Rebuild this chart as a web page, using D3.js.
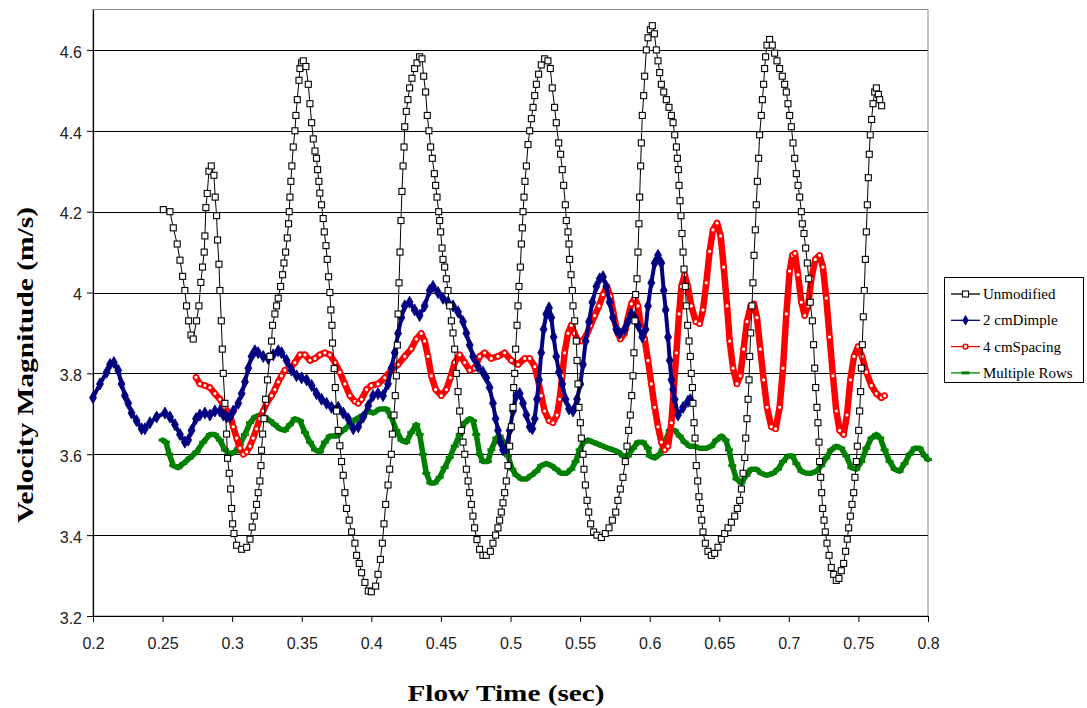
<!DOCTYPE html>
<html><head><meta charset="utf-8">
<script src="https://cdn.jsdelivr.net/npm/d3@7"></script>
<style>body{margin:0;background:#fff}</style>
</head><body>
<svg id="chart" width="1087" height="708"></svg>
<script>
// ---------- DATA ----------
const seriesNames = ["Unmodified", "2 cmDimple", "4 cmSpacing", "Multiple Rows"];

const unmodTime = [0.2505,0.2553,0.2577,0.2605,0.2625,0.2644,0.2660,0.2672,0.2687,0.2704,0.2720,0.2744,0.2761,0.2775,0.2787,0.2799,0.2804,0.2811,0.2821,0.2833,0.2850,0.2869,0.2878,0.2888,0.2895,0.2905,0.2912,0.2922,0.2929,0.2936,0.2948,0.2960,0.2967,0.2979,0.2989,0.2996,0.3003,0.3013,0.3032,0.3068,0.3104,0.3128,0.3144,0.3159,0.3175,0.3187,0.3199,0.3207,0.3211,0.3219,0.3228,0.3240,0.3254,0.3271,0.3283,0.3290,0.3307,0.3319,0.3331,0.3348,0.3362,0.3372,0.3384,0.3396,0.3405,0.3410,0.3415,0.3422,0.3429,0.3439,0.3451,0.3458,0.3468,0.3480,0.3487,0.3499,0.3511,0.3530,0.3547,0.3559,0.3571,0.3583,0.3595,0.3606,0.3614,0.3623,0.3630,0.3642,0.3654,0.3662,0.3674,0.3683,0.3693,0.3702,0.3709,0.3717,0.3721,0.3733,0.3741,0.3750,0.3762,0.3774,0.3786,0.3798,0.3810,0.3822,0.3841,0.3858,0.3882,0.3894,0.3913,0.3930,0.3954,0.3978,
0.4000,0.4031,0.4048,0.4065,0.4079,0.4091,0.4103,0.4120,0.4132,0.4144,0.4151,0.4163,0.4172,0.4180,0.4187,0.4192,0.4199,0.4206,0.4213,0.4220,0.4228,0.4235,0.4240,0.4251,0.4263,0.4275,0.4292,0.4311,0.4328,0.4347,0.4364,0.4376,0.4390,0.4402,0.4414,0.4426,0.4438,0.4453,0.4462,0.4472,0.4484,0.4491,0.4498,0.4508,0.4515,0.4527,0.4539,0.4551,0.4563,0.4575,0.4587,0.4599,0.4611,0.4623,0.4635,0.4647,0.4659,0.4671,0.4683,0.4695,0.4707,0.4719,0.4730,0.4742,0.4759,0.4778,0.4802,0.4826,0.4855,0.4874,0.4893,0.4910,0.4922,0.4934,0.4946,0.4958,0.4970,0.4982,0.4994,0.5006,0.5018,0.5023,0.5030,0.5037,0.5047,0.5054,0.5061,0.5071,0.5078,0.5085,0.5090,0.5097,0.5104,0.5114,0.5126,0.5138,0.5150,0.5162,0.5174,0.5186,0.5202,0.5221,0.5245,0.5269,0.5286,0.5300,0.5317,0.5329,0.5346,0.5360,0.5372,0.5382,0.5394,0.5401,0.5413,0.5420,0.5425,0.5435,0.5444,0.5449,0.5461,0.5473,0.5478,0.5485,0.5492,0.5502,0.5509,0.5521,0.5528,0.5538,0.5550,0.5562,0.5576,0.5597,0.5621,0.5653,0.5681,0.5708,0.5732,0.5756,0.5772,0.5789,0.5808,0.5825,0.5837,0.5849,0.5861,0.5871,0.5880,0.5887,0.5894,0.5899,0.5909,0.5916,0.5923,0.5928,0.5935,0.5940,0.5947,0.5957,
0.5964,0.5976,0.5988,0.6005,0.6019,0.6034,0.6048,0.6060,0.6072,0.6084,0.6101,0.6120,0.6139,0.6156,0.6168,0.6180,0.6192,0.6199,0.6206,0.6211,0.6218,0.6225,0.6232,0.6240,0.6247,0.6256,0.6263,0.6273,0.6283,0.6292,0.6299,0.6307,0.6311,0.6319,0.6326,0.6335,0.6345,0.6354,0.6364,0.6374,0.6383,0.6400,0.6419,0.6443,0.6467,0.6491,0.6515,0.6539,0.6563,0.6587,0.6611,0.6630,0.6647,0.6659,0.6671,0.6683,0.6690,0.6699,0.6707,0.6714,0.6719,0.6726,0.6735,0.6742,0.6750,0.6759,0.6766,0.6774,0.6783,0.6790,0.6802,0.6810,0.6819,0.6826,0.6833,0.6843,0.6862,0.6881,0.6898,0.6915,0.6934,0.6953,0.6970,0.6982,0.6994,0.7006,0.7018,0.7030,0.7042,0.7054,0.7066,0.7078,0.7090,0.7097,0.7109,0.7121,0.7133,0.7143,0.7154,0.7169,0.7178,0.7186,0.7193,0.7202,0.7209,0.7217,0.7221,0.7229,0.7236,0.7243,0.7253,0.7262,0.7274,0.7289,0.7305,0.7322,0.7341,0.7360,0.7377,0.7394,0.7408,0.7420,0.7430,0.7442,0.7454,0.7466,0.7475,0.7485,0.7492,0.7502,0.7509,0.7516,0.7521,0.7528,0.7535,0.7542,0.7550,0.7557,0.7564,0.7571,0.7578,0.7585,0.7595,0.7605,0.7617,0.7629,0.7643,0.7653,0.7667];
const unmodVel = [4.205,4.20,4.16,4.12,4.08,4.04,4.005,3.967,3.93,3.895,3.885,3.93,3.967,4.025,4.063,4.10,4.14,4.21,4.245,4.30,4.313,4.29,4.236,4.19,4.13,4.07,4.005,3.93,3.86,3.80,3.726,3.65,3.59,3.553,3.514,3.466,3.428,3.404,3.375,3.365,3.37,3.39,3.42,3.447,3.476,3.505,3.534,3.572,3.61,3.65,3.688,3.736,3.784,3.842,3.88,3.919,3.947,3.967,3.986,4.015,4.044,4.073,4.10,4.135,4.17,4.20,4.236,4.275,4.313,4.36,4.40,4.438,4.477,4.525,4.554,4.568,4.573,4.559,4.515,4.467,4.42,4.38,4.35,4.332,4.304,4.275,4.246,4.217,4.183,4.15,4.116,4.082,4.039,4.00,3.957,3.919,3.875,3.812,3.765,3.707,3.659,3.621,3.582,3.548,3.505,3.466,3.437,3.408,3.38,3.35,3.33,3.307,3.283,3.262,
3.26,3.274,3.303,3.34,3.38,3.428,3.476,3.524,3.563,3.60,3.65,3.697,3.745,3.794,3.87,3.947,4.024,4.10,4.178,4.25,4.313,4.36,4.41,4.448,4.477,4.506,4.53,4.554,4.568,4.583,4.578,4.535,4.496,4.438,4.40,4.36,4.332,4.294,4.265,4.236,4.20,4.178,4.15,4.11,4.082,4.063,4.034,4.005,3.967,3.93,3.90,3.86,3.80,3.755,3.707,3.659,3.63,3.60,3.563,3.534,3.505,3.476,3.447,3.418,3.389,3.365,3.35,3.35,3.36,3.38,3.40,3.418,3.437,3.457,3.48,3.505,3.534,3.572,3.62,3.668,3.716,3.765,3.80,3.86,3.919,3.967,4.015,4.063,4.12,4.16,4.20,4.236,4.275,4.313,4.366,4.40,4.43,4.458,4.487,4.515,4.54,4.563,4.578,4.573,4.554,4.506,4.458,4.42,4.37,4.342,4.304,4.265,4.217,4.178,4.15,4.12,4.082,4.044,4.005,3.967,3.93,3.88,3.832,3.774,3.716,3.678,3.64,3.60,3.563,3.524,3.486,3.457,3.428,3.408,3.40,3.394,3.404,3.418,3.437,3.457,3.486,3.514,3.543,3.582,3.62,3.659,3.697,3.745,3.794,3.851,3.93,3.995,4.034,4.10,4.17,4.236,4.313,4.37,4.438,4.487,
4.535,4.60,4.63,4.65,4.66,4.64,4.60,4.573,4.544,4.515,4.496,4.477,4.458,4.438,4.42,4.39,4.36,4.332,4.304,4.265,4.227,4.19,4.146,4.10,4.058,4.015,3.967,3.919,3.88,3.842,3.80,3.765,3.726,3.678,3.64,3.572,3.534,3.495,3.466,3.437,3.408,3.38,3.36,3.35,3.355,3.37,3.39,3.404,3.418,3.432,3.447,3.466,3.486,3.514,3.553,3.592,3.64,3.688,3.736,3.784,3.842,3.90,3.967,4.024,4.092,4.155,4.217,4.275,4.332,4.39,4.438,4.477,4.515,4.554,4.583,4.612,4.626,4.612,4.592,4.573,4.554,4.535,4.515,4.496,4.467,4.438,4.41,4.37,4.332,4.294,4.265,4.236,4.20,4.17,4.146,4.11,4.073,4.034,3.976,3.93,3.871,3.813,3.765,3.716,3.678,3.63,3.582,3.543,3.505,3.466,3.437,3.408,3.38,3.35,3.32,3.303,3.288,3.293,3.312,3.33,3.36,3.39,3.418,3.447,3.476,3.505,3.543,3.582,3.62,3.659,3.707,3.755,3.813,3.871,3.94,4.005,4.082,4.15,4.217,4.284,4.342,4.39,4.428,4.467,4.496,4.506,4.49,4.477,4.462];

const dimpleTime = [0.2000,0.2050,0.2098,0.2122,0.2150,0.2181,0.2205,0.2229,0.2253,0.2277,0.2313,0.2349,0.2373,0.2409,0.2457,0.2517,0.2553,0.2589,0.2625,0.2660,0.2684,0.2708,0.2740,0.2768,0.2804,0.2840,0.2876,0.2912,0.2936,0.2960,0.2984,0.3008,0.3044,0.3068,0.3092,0.3116,0.3139,0.3163,0.3187,0.3223,0.3259,0.3295,0.3331,0.3355,0.3391,0.3427,0.3463,0.3499,0.3535,0.3571,0.3606,0.3642,0.3678,0.3714,0.3762,0.3798,0.3834,0.3870,0.3906,0.3942,0.3978,
0.4012,0.4048,0.4084,0.4120,0.4144,0.4168,0.4192,0.4216,0.4240,0.4275,0.4311,0.4347,0.4383,0.4419,0.4443,0.4479,0.4515,0.4551,0.4587,0.4623,0.4659,0.4683,0.4707,0.4730,0.4766,0.4802,0.4826,0.4850,0.4874,0.4893,0.4910,0.4927,0.4946,0.4970,0.4994,0.5018,0.5042,0.5066,0.5090,0.5114,0.5138,0.5157,0.5174,0.5190,0.5205,0.5221,0.5238,0.5257,0.5277,0.5293,0.5310,0.5329,0.5348,0.5372,0.5396,0.5420,0.5449,0.5478,0.5502,0.5521,0.5540,0.5564,0.5588,0.5617,0.5641,0.5665,0.5688,0.5712,0.5736,0.5760,0.5784,0.5820,0.5844,0.5868,0.5892,0.5916,0.5947,
0.5971,0.5988,0.6012,0.6036,0.6060,0.6084,0.6101,0.6115,0.6132,0.6144,0.6156,0.6168,0.6180,0.6204,0.6240,0.6275,0.6292];
const dimpleVel = [3.74,3.774,3.803,3.822,3.827,3.808,3.774,3.745,3.726,3.702,3.683,3.663,3.663,3.678,3.692,3.702,3.692,3.673,3.649,3.63,3.635,3.659,3.688,3.697,3.702,3.697,3.707,3.707,3.697,3.692,3.692,3.707,3.726,3.75,3.779,3.813,3.842,3.856,3.851,3.842,3.837,3.846,3.856,3.851,3.832,3.808,3.794,3.789,3.784,3.77,3.75,3.736,3.726,3.716,3.716,3.702,3.688,3.663,3.668,3.692,3.72,
3.745,3.75,3.745,3.774,3.813,3.851,3.899,3.938,3.967,3.976,3.957,3.943,3.967,4.005,4.015,4.00,3.986,3.976,3.967,3.952,3.928,3.899,3.87,3.842,3.817,3.803,3.789,3.765,3.726,3.688,3.659,3.63,3.611,3.615,3.659,3.707,3.745,3.75,3.726,3.697,3.668,3.663,3.688,3.736,3.784,3.851,3.909,3.947,3.962,3.938,3.89,3.842,3.803,3.774,3.736,3.712,3.707,3.736,3.774,3.822,3.88,3.928,3.976,4.015,4.034,4.039,4.015,3.976,3.938,3.909,3.899,3.909,3.928,3.947,3.938,3.919,3.89,
3.909,3.967,4.024,4.073,4.092,4.073,4.005,3.957,3.89,3.832,3.784,3.76,3.736,3.697,3.716,3.731,3.735];

const spacingTime = [0.2740,0.2768,0.2804,0.2840,0.2876,0.2912,0.2948,0.2984,0.3008,0.3032,0.3056,0.3080,0.3104,0.3128,0.3151,0.3175,0.3199,0.3223,0.3247,0.3283,0.3307,0.3331,0.3355,0.3379,0.3415,0.3451,0.3487,0.3523,0.3559,0.3595,0.3630,0.3666,0.3702,0.3738,0.3774,0.3810,0.3846,0.3882,0.3906,0.3930,0.3966,
0.4000,0.4048,0.4096,0.4144,0.4192,0.4240,0.4287,0.4323,0.4359,0.4383,0.4407,0.4431,0.4462,0.4503,0.4539,0.4568,0.4599,0.4635,0.4671,0.4707,0.4742,0.4778,0.4814,0.4862,0.4910,0.4958,0.5006,0.5054,0.5102,0.5138,0.5174,0.5198,0.5221,0.5245,0.5277,0.5305,0.5334,0.5353,0.5372,0.5389,0.5413,0.5437,0.5461,0.5485,0.5516,0.5545,0.5576,0.5605,0.5636,0.5665,0.5693,0.5717,0.5741,0.5765,0.5789,0.5820,0.5844,0.5868,0.5892,0.5916,0.5940,
0.5964,0.5988,0.6012,0.6036,0.6060,0.6084,0.6108,0.6132,0.6156,0.6172,0.6192,0.6211,0.6228,0.6251,0.6275,0.6299,0.6331,0.6359,0.6383,0.6407,0.6431,0.6455,0.6484,0.6510,0.6532,0.6556,0.6575,0.6599,0.6627,0.6651,0.6675,0.6699,0.6726,0.6750,0.6771,0.6795,0.6819,0.6843,0.6874,0.6905,0.6934,0.6958,0.6982,0.7006,0.7025,0.7044,0.7066,0.7090,0.7114,0.7138,0.7162,0.7190,0.7221,0.7245,0.7269,0.7293,0.7317,0.7341,0.7365,0.7394,0.7418,0.7442,0.7468,0.7497,0.7526,0.7557,0.7593,0.7629,0.7665,0.7688];
const spacingVel = [3.79,3.774,3.77,3.765,3.75,3.736,3.716,3.697,3.668,3.64,3.615,3.60,3.606,3.62,3.64,3.663,3.688,3.707,3.726,3.745,3.76,3.779,3.794,3.808,3.813,3.827,3.846,3.846,3.832,3.837,3.846,3.851,3.846,3.827,3.803,3.774,3.745,3.731,3.726,3.736,3.76,
3.77,3.774,3.789,3.808,3.822,3.842,3.861,3.885,3.899,3.88,3.842,3.794,3.76,3.745,3.76,3.789,3.827,3.846,3.827,3.808,3.813,3.842,3.851,3.837,3.842,3.851,3.832,3.822,3.837,3.837,3.817,3.784,3.745,3.707,3.683,3.678,3.697,3.736,3.794,3.851,3.899,3.919,3.899,3.88,3.88,3.894,3.919,3.943,3.967,3.995,4.015,3.991,3.947,3.904,3.885,3.899,3.938,3.972,3.986,3.967,3.909,
3.885,3.832,3.774,3.716,3.668,3.63,3.611,3.62,3.678,3.755,3.851,3.947,4.015,4.044,4.015,3.967,3.928,3.923,3.957,4.024,4.102,4.155,4.172,4.14,4.063,3.967,3.88,3.813,3.774,3.794,3.86,3.928,3.967,3.972,3.938,3.86,3.784,3.716,3.668,3.663,3.716,3.813,3.947,4.053,4.092,4.097,4.044,3.976,3.943,3.967,4.034,4.082,4.092,4.063,3.986,3.89,3.794,3.707,3.659,3.649,3.697,3.784,3.842,3.866,3.842,3.803,3.77,3.75,3.74,3.745];

const rowsTime = [0.2500,0.2524,0.2548,0.2577,0.2613,0.2648,0.2696,0.2744,0.2792,0.2840,0.2876,0.2912,0.2948,0.2984,0.3020,0.3056,0.3092,0.3128,0.3163,0.3199,0.3235,0.3271,0.3307,0.3343,0.3379,0.3415,0.3451,0.3487,0.3523,0.3559,0.3595,0.3630,0.3666,0.3702,0.3750,0.3798,0.3846,0.3894,0.3942,0.3978,
0.4012,0.4060,0.4108,0.4144,0.4180,0.4216,0.4251,0.4287,0.4323,0.4347,0.4371,0.4395,0.4424,0.4455,0.4491,0.4527,0.4563,0.4599,0.4635,0.4671,0.4707,0.4730,0.4754,0.4778,0.4802,0.4838,0.4862,0.4898,0.4922,0.4951,0.4982,0.5013,0.5042,0.5078,0.5114,0.5150,0.5186,0.5221,0.5257,0.5293,0.5329,0.5365,0.5401,0.5437,0.5468,0.5497,0.5526,0.5557,0.5593,0.5629,0.5665,0.5700,0.5736,0.5772,0.5808,0.5844,0.5880,0.5916,0.5952,
0.5988,0.6000,0.6036,0.6072,0.6108,0.6144,0.6180,0.6216,0.6251,0.6287,0.6323,0.6359,0.6407,0.6443,0.6479,0.6515,0.6546,0.6570,0.6594,0.6623,0.6659,0.6695,0.6730,0.6766,0.6802,0.6838,0.6886,0.6922,0.6958,0.6994,0.7025,0.7054,0.7090,0.7126,0.7162,0.7198,0.7233,0.7269,0.7305,0.7341,0.7377,0.7413,0.7449,0.7485,0.7521,0.7557,0.7593,0.7629,0.7657,0.7688,0.7724,0.7760,0.7796,0.7832,0.7868,0.7904,0.7940,0.7976,0.8000];
const rowsVel = [3.635,3.63,3.60,3.572,3.567,3.577,3.591,3.606,3.63,3.649,3.649,3.635,3.611,3.60,3.606,3.625,3.649,3.678,3.692,3.697,3.692,3.683,3.673,3.663,3.659,3.673,3.688,3.683,3.654,3.63,3.611,3.606,3.63,3.645,3.645,3.659,3.673,3.688,3.697,3.707,
3.702,3.712,3.712,3.692,3.659,3.635,3.63,3.654,3.673,3.649,3.60,3.553,3.529,3.529,3.543,3.567,3.592,3.62,3.649,3.678,3.688,3.683,3.649,3.60,3.582,3.582,3.611,3.64,3.645,3.63,3.596,3.563,3.548,3.539,3.539,3.548,3.558,3.572,3.577,3.572,3.563,3.553,3.553,3.563,3.582,3.611,3.63,3.635,3.63,3.625,3.62,3.615,3.611,3.606,3.596,3.596,3.615,3.63,3.63,
3.615,3.596,3.591,3.60,3.63,3.659,3.659,3.645,3.63,3.62,3.62,3.615,3.615,3.62,3.635,3.645,3.635,3.611,3.572,3.539,3.529,3.548,3.563,3.563,3.553,3.548,3.553,3.563,3.582,3.596,3.596,3.577,3.558,3.553,3.553,3.558,3.572,3.591,3.611,3.62,3.615,3.596,3.567,3.563,3.582,3.615,3.64,3.649,3.64,3.611,3.582,3.563,3.558,3.577,3.60,3.615,3.615,3.596,3.587];

const xTicks = [0.2,0.25,0.3,0.35,0.4,0.45,0.5,0.55,0.6,0.65,0.7,0.75,0.8];
const xTickLabels = ["0.2","0.25","0.3","0.35","0.4","0.45","0.5","0.55","0.6","0.65","0.7","0.75","0.8"];
const yTicks = [3.2,3.4,3.6,3.8,4.0,4.2,4.4,4.6];
const yTickLabels = ["3.2","3.4","3.6","3.8","4","4.2","4.4","4.6"];
const xTitle = "Flow Time (sec)";
const yTitle = "Velocity Magnitude (m/s)";

// ---------- CHART ----------
const svg = d3.select("#chart");
const x = d3.scaleLinear().domain([0.2, 0.8]).range([93, 928]);
const y = d3.scaleLinear().domain([3.2, 4.7]).range([616, 9.5]);

const zip = (ts, vs) => ts.map((t, i) => ({t, v: vs[i]}));
const series = [
  {name: seriesNames[0], data: zip(unmodTime, unmodVel), color: "#000000", marker: "square", width: 1},
  {name: seriesNames[1], data: zip(dimpleTime, dimpleVel), color: "#000080", marker: "diamond", width: 4},
  {name: seriesNames[2], data: zip(spacingTime, spacingVel), color: "#ff0000", marker: "circle", width: 6.5},
  {name: seriesNames[3], data: zip(rowsTime, rowsVel), color: "#008000", marker: "dash", width: 5.5}
];

// plot frame
svg.append("rect").attr("x", x(0.2)).attr("y", y(4.7))
  .attr("width", x(0.8) - x(0.2)).attr("height", y(3.2) - y(4.7))
  .attr("fill", "#fff").attr("stroke", "#8c8c8c").attr("stroke-width", 1);

// gridlines
svg.append("g").selectAll("line").data(yTicks.filter(d => d > 3.2)).join("line")
  .attr("x1", x(0.2)).attr("x2", x(0.8))
  .attr("y1", d => Math.round(y(d)) + 0.5).attr("y2", d => Math.round(y(d)) + 0.5)
  .attr("stroke", "#000").attr("stroke-width", 1);

// axes
const xAxis = svg.append("g").attr("transform", `translate(0,${y(3.2)})`)
  .call(d3.axisBottom(x).tickValues(xTicks).tickFormat((d, i) => xTickLabels[i]).tickSize(6).tickSizeOuter(0).tickPadding(16));
const yAxis = svg.append("g").attr("transform", `translate(${x(0.2)},0)`)
  .call(d3.axisLeft(y).tickValues(yTicks).tickFormat((d, i) => yTickLabels[i]).tickSize(6).tickSizeOuter(0).tickPadding(5));
[xAxis, yAxis].forEach(g => {
  g.select(".domain").attr("stroke", "#000").attr("stroke-width", 1.2);
  g.selectAll(".tick line").attr("stroke", "#000");
  g.selectAll(".tick text").attr("fill", "#222")
    .style("font-family", "'Liberation Sans', Arial, sans-serif").style("font-size", "16px");
});
yAxis.selectAll(".tick text").attr("dy", "0.45em");

// marker drawing
function drawMarker(sel, s, size) {
  if (s.marker === "square") {
    sel.append("rect").attr("x", -3).attr("y", -3).attr("width", 6).attr("height", 6)
      .attr("fill", "#fff").attr("stroke", s.color).attr("stroke-width", 1.1);
  } else if (s.marker === "diamond") {
    sel.append("path").attr("d", d3.symbol(d3.symbolDiamond, size || 42)())
      .attr("fill", s.color).attr("stroke", s.color).attr("stroke-width", 0.8);
  } else if (s.marker === "circle") {
    sel.append("circle").attr("r", 2.4).attr("fill", "#fff").attr("stroke", s.color).attr("stroke-width", 1.6);
  } else {
    sel.append("rect").attr("x", -4).attr("y", -1.5).attr("width", 8).attr("height", 3).attr("fill", s.color);
  }
}

const line = d3.line().x(d => x(d.t)).y(d => y(d.v));
const drawOrder = [3, 2, 1, 0];
drawOrder.forEach(k => {
  const s = series[k];
  const g = svg.append("g");
  g.append("path").datum(s.data).attr("d", line).attr("fill", "none")
    .attr("stroke", s.color).attr("stroke-width", s.width).attr("stroke-linejoin", "round").attr("stroke-linecap", "round");
  g.selectAll("g.m").data(s.data).join("g").attr("class", "m")
    .attr("transform", d => `translate(${x(d.t)},${y(d.v)})`)
    .each(function () { drawMarker(d3.select(this), s); });
});

// axis titles
svg.append("text").attr("x", 506).attr("y", 701).attr("text-anchor", "middle")
  .attr("textLength", 197).attr("lengthAdjust", "spacingAndGlyphs")
  .style("font-family", "'Liberation Serif', 'Times New Roman', serif").style("font-weight", "bold").style("font-size", "23px")
  .text(xTitle);
svg.append("text").attr("transform", "translate(33,365) rotate(-90)").attr("text-anchor", "middle")
  .attr("textLength", 316).attr("lengthAdjust", "spacingAndGlyphs")
  .style("font-family", "'Liberation Serif', 'Times New Roman', serif").style("font-weight", "bold").style("font-size", "23px")
  .text(yTitle);

// legend
const lg = svg.append("g");
lg.append("rect").attr("x", 944.5).attr("y", 277.5).attr("width", 139).attr("height", 105)
  .attr("fill", "#fff").attr("stroke", "#000").attr("stroke-width", 1);
series.forEach((s, i) => {
  const yy = 294 + i * 26.3;
  const row = lg.append("g").attr("transform", `translate(0,${yy})`);
  row.append("line").attr("x1", 951).attr("x2", 980).attr("y1", 0).attr("y2", 0)
    .attr("stroke", s.color).attr("stroke-width", 1.3);
  const m = row.append("g").attr("transform", "translate(965.5,0)");
  drawMarker(m, s, 26);
  row.append("text").attr("x", 983).attr("y", 5)
    .style("font-family", "'Liberation Serif', 'Times New Roman', serif").style("font-size", "15px").attr("fill", "#000")
    .text(s.name);
});
</script>
</body></html>
